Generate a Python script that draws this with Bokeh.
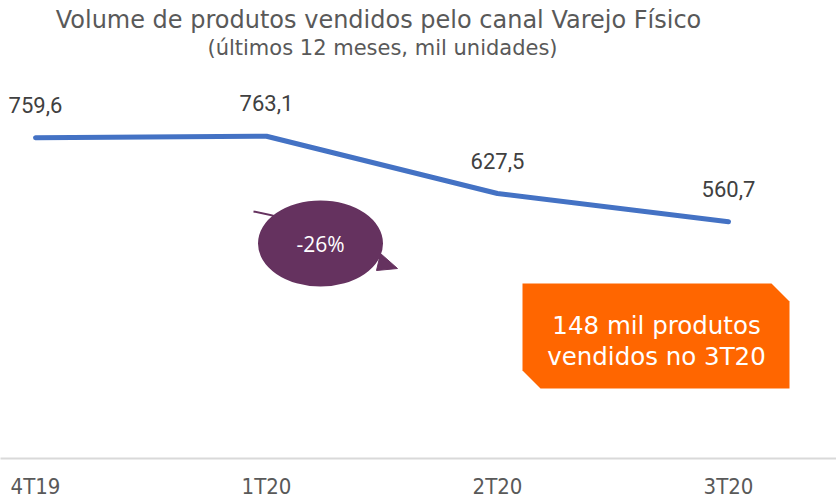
from bokeh.plotting import figure
from bokeh.models import Label, FixedTicker, Range1d, ColumnDataSource
from bokeh.embed import file_html
from bokeh.resources import INLINE

# ---- data ----
quarters = ["4T19", "1T20", "2T20", "3T20"]
volume = [759.6, 763.1, 627.5, 560.7]
value_labels = ["759,6", "763,1", "627,5", "560,7"]
title_text = "Volume de produtos vendidos pelo canal Varejo Físico"
subtitle_text = "(últimos 12 meses, mil unidades)"
change_text = "-26%"
box_lines = ["148 mil produtos", "vendidos no 3T20"]

W, H = 836, 504
FRAME_H = 458
X0, XSTEP = 35.0, 231.0
YK = 0.4223

def dx(px):
    return (px - X0) / XSTEP

def dy(py):
    return (FRAME_H - py) / YK

p = figure(width=W, height=H, output_backend="svg", toolbar_location=None,
           x_range=Range1d(dx(0), dx(W)), y_range=Range1d(0, dy(0)),
           y_axis_location=None, min_border=0, min_border_bottom=H - FRAME_H)
p.outline_line_color = None
p.xgrid.visible = False
p.ygrid.visible = False
p.background_fill_color = "white"
p.border_fill_color = "white"

xs = list(range(len(quarters)))
src = ColumnDataSource(dict(x=xs, y=volume, lab=value_labels))

# x axis
ax = p.xaxis[0]
ax.ticker = FixedTicker(ticks=xs)
ax.major_label_overrides = {i: q for i, q in zip(xs, quarters)}
ax.axis_line_color = "#D9D9D9"
ax.axis_line_width = 2
ax.major_tick_line_color = None
ax.minor_tick_line_color = None
ax.major_tick_out = 0
ax.major_tick_in = 0
ax.major_label_standoff = 15
ax.major_label_text_font = "'DejaVu Sans Condensed', Roboto"
ax.major_label_text_font_size = "22px"
ax.major_label_text_color = "#595959"

# line
p.line("x", "y", source=src, line_color="#4472C4", line_width=5,
       line_cap="round", line_join="round")
p.text("x", "y", text="lab", source=src, y_offset=-33,
       text_align="center", text_baseline="middle",
       text_font={"value": "Roboto"}, text_font_size="22px", text_color="#404040")

# curved arrow behind ellipse
p.quadratic(x0=dx(253), y0=dy(211), x1=dx(386), y1=dy(262),
            cx=dx(330), cy=dy(226), line_color="#65325F", line_width=2)
p.patch([dx(380), dx(397), dx(376)], [dy(253), dy(268), dy(270)],
        fill_color="#65325F", line_color="#65325F")

# ellipse
p.ellipse(x=[dx(320)], y=[dy(243)], width=125 / XSTEP, height=86 / YK,
          fill_color="#65325F", line_color=None)
p.add_layout(Label(x=dx(320), y=dy(243), text=change_text, text_align="center",
                   text_baseline="middle", text_font="Open Sans",
                   text_font_size="21px", text_color="white"))

# orange box
bx = [522, 771, 789, 789, 540, 522]
by = [283, 283, 301, 388, 388, 370]
p.patch([dx(v) for v in bx], [dy(v) for v in by], fill_color="#FF6600", line_color=None)
p.add_layout(Label(x=dx(656), y=dy(325), text=box_lines[0], text_align="center",
                   text_baseline="middle", text_font="DejaVu Sans",
                   text_font_size="24.5px", text_color="white"))
p.add_layout(Label(x=dx(656), y=dy(356), text=box_lines[1], text_align="center",
                   text_baseline="middle", text_font="DejaVu Sans",
                   text_font_size="24.5px", text_color="white"))

# titles
p.add_layout(Label(x=dx(378), y=dy(19), text=title_text, text_align="center",
                   text_baseline="middle", text_font="DejaVu Sans",
                   text_font_size="24px", text_color="#595959"))
p.add_layout(Label(x=dx(382), y=dy(47), text=subtitle_text, text_align="center",
                   text_baseline="middle", text_font="DejaVu Sans",
                   text_font_size="21px", text_color="#595959"))

open("out.html", "w").write(file_html(p, INLINE))
